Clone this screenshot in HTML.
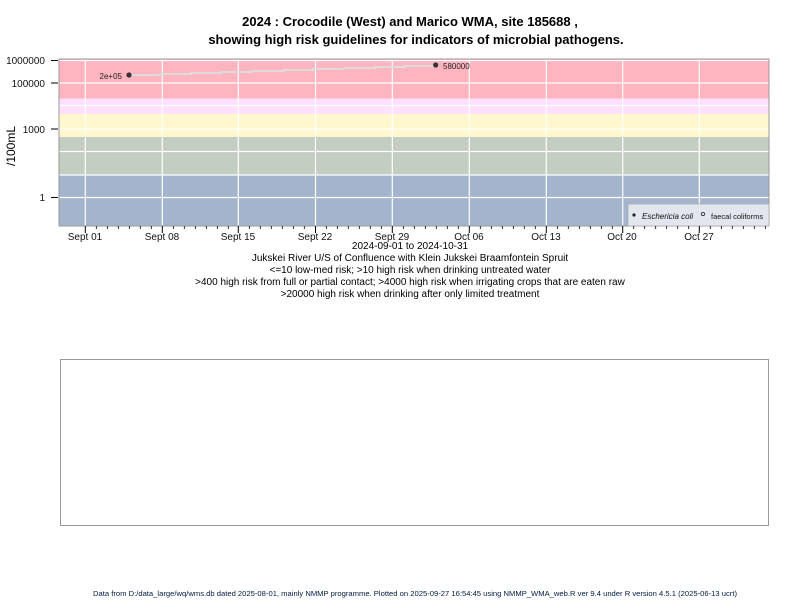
<!DOCTYPE html>
<html><head><meta charset="utf-8"><style>
html,body{margin:0;padding:0;background:#fff;}
svg{display:block;font-family:"Liberation Sans",Arial,sans-serif;}
</style></head><body>
<svg width="800" height="600" viewBox="0 0 800 600" xmlns="http://www.w3.org/2000/svg">
<text x="410" y="26" font-size="13" font-weight="bold" text-anchor="middle" fill="#000">2024 : Crocodile (West) and Marico WMA, site 185688 ,</text>
<text x="416" y="44" font-size="13" font-weight="bold" text-anchor="middle" fill="#000">showing high risk guidelines for indicators of microbial pathogens.</text>
<rect x="59" y="59" width="710" height="39.5" fill="#ffb5c0"/>
<rect x="59" y="98.5" width="710" height="15.5" fill="#ffe0ff"/>
<rect x="59" y="114" width="710" height="23" fill="#fff8ce"/>
<rect x="59" y="137" width="710" height="38" fill="#c3cdc2"/>
<rect x="59" y="175" width="710" height="51" fill="#a3b4cc"/>
<g stroke="#fff" stroke-width="1.2">
<line x1="59" x2="769" y1="60.5" y2="60.5"/>
<line x1="59" x2="769" y1="83" y2="83"/>
<line x1="59" x2="769" y1="105.5" y2="105.5"/>
<line x1="59" x2="769" y1="129" y2="129"/>
<line x1="59" x2="769" y1="151.5" y2="151.5"/>
<line x1="59" x2="769" y1="175" y2="175"/>
<line x1="59" x2="769" y1="197.5" y2="197.5"/>
<line x1="85.3" x2="85.3" y1="59" y2="226"/>
<line x1="162.3" x2="162.3" y1="59" y2="226"/>
<line x1="238.3" x2="238.3" y1="59" y2="226"/>
<line x1="315.5" x2="315.5" y1="59" y2="226"/>
<line x1="392.3" x2="392.3" y1="59" y2="226"/>
<line x1="469.3" x2="469.3" y1="59" y2="226"/>
<line x1="546.3" x2="546.3" y1="59" y2="226"/>
<line x1="622.7" x2="622.7" y1="59" y2="226"/>
<line x1="699.3" x2="699.3" y1="59" y2="226"/>
</g>
<rect x="59" y="59" width="710" height="167" fill="none" stroke="#999" stroke-width="1"/>
<g stroke="#000" stroke-width="1">
<line x1="51" x2="58" y1="60.5" y2="60.5"/>
<line x1="51" x2="58" y1="83" y2="83"/>
<line x1="51" x2="58" y1="129" y2="129"/>
<line x1="51" x2="58" y1="197.5" y2="197.5"/>
</g>
<g font-size="10" fill="#111" text-anchor="end">
<text x="45" y="64">1000000</text>
<text x="45" y="87">100000</text>
<text x="45" y="133">1000</text>
<text x="45" y="201">1</text>
</g>
<text transform="translate(15,146) rotate(-90)" font-size="12" text-anchor="middle" fill="#000">/100mL</text>
<g font-size="10" fill="#111" text-anchor="middle">
<text x="85" y="240">Sept 01</text>
<text x="162" y="240">Sept 08</text>
<text x="238" y="240">Sept 15</text>
<text x="315" y="240">Sept 22</text>
<text x="392" y="240">Sept 29</text>
<text x="469" y="240">Oct 06</text>
<text x="546" y="240">Oct 13</text>
<text x="622" y="240">Oct 20</text>
<text x="699" y="240">Oct 27</text>
</g>
<g font-size="10" fill="#000" text-anchor="middle">
<text x="410" y="249">2024-09-01 to 2024-10-31</text>
<text x="410" y="261">Jukskei River U/S of Confluence with Klein Jukskei Braamfontein Spruit</text>
<text x="410" y="273">&lt;=10 low-med risk; &gt;10 high risk when drinking untreated water</text>
<text x="410" y="285">&gt;400 high risk from full or partial contact; &gt;4000 high risk when irrigating crops that are eaten raw</text>
<text x="410" y="297">&gt;20000 high risk when drinking after only limited treatment</text>
</g>
<polyline fill="none" stroke="#dcdcdc" stroke-width="2" points="129,75 160,75 160,74 191,74 191,73 221,73 221,72 252,72 252,71 283,71 283,70 313,70 313,69 344,69 344,68 375,68 375,67 405,67 405,66 435.7,66 435.7,65"/>
<circle cx="129" cy="75" r="2.6" fill="#333"/>
<circle cx="435.7" cy="65" r="2.6" fill="#333"/>
<text x="122" y="79" font-size="8" fill="#222" text-anchor="end">2e+05</text>
<text x="443" y="69" font-size="8" fill="#222">580000</text>
<rect x="628" y="204" width="141" height="22" fill="#e2e6ee" stroke="#aaa" stroke-width="0.8"/>
<circle cx="634" cy="215" r="1.6" fill="#222"/>
<text x="642" y="219" font-size="8" font-style="italic" fill="#111">Eschericia coli</text>
<circle cx="703" cy="214" r="1.6" fill="none" stroke="#222" stroke-width="0.8"/>
<text x="711" y="219" font-size="7.5" fill="#111">faecal coliforms</text>
<rect x="60.5" y="359.5" width="708" height="166" fill="#fff" stroke="#999" stroke-width="1"/>
<text x="93" y="596" font-size="7.5" fill="#001a40" textLength="644" lengthAdjust="spacingAndGlyphs">Data from D:/data_large/wq/wms.db dated 2025-08-01, mainly NMMP programme. Plotted on 2025-09-27 16:54:45 using NMMP_WMA_web.R ver 9.4 under R version 4.5.1 (2025-06-13 ucrt)</text>
<g stroke="#000" stroke-width="1">
<line x1="85.3" x2="85.3" y1="226" y2="233"/><line x1="162.3" x2="162.3" y1="226" y2="233"/><line x1="238.3" x2="238.3" y1="226" y2="233"/><line x1="315.5" x2="315.5" y1="226" y2="233"/><line x1="392.3" x2="392.3" y1="226" y2="233"/><line x1="469.3" x2="469.3" y1="226" y2="233"/><line x1="546.3" x2="546.3" y1="226" y2="233"/><line x1="622.7" x2="622.7" y1="226" y2="233"/><line x1="699.3" x2="699.3" y1="226" y2="233"/>
</g>
<path stroke="#000" stroke-width="0.8" d="M96.3 226v3M107.3 226v3M118.3 226v3M129.3 226v3M140.3 226v3M151.3 226v3M173.3 226v3M184.3 226v3M195.3 226v3M206.3 226v3M217.3 226v3M228.3 226v3M249.3 226v3M260.3 226v3M271.3 226v3M282.3 226v3M293.3 226v3M304.3 226v3M326.3 226v3M337.3 226v3M348.3 226v3M359.3 226v3M370.3 226v3M381.3 226v3M403.3 226v3M414.3 226v3M425.3 226v3M436.3 226v3M447.3 226v3M458.3 226v3M480.3 226v3M491.3 226v3M502.3 226v3M513.3 226v3M524.3 226v3M535.3 226v3M557.3 226v3M568.3 226v3M579.3 226v3M590.3 226v3M601.3 226v3M612.3 226v3M633.7 226v3M644.7 226v3M655.7 226v3M666.7 226v3M677.7 226v3M688.7 226v3M710.3 226v3M721.3 226v3M732.3 226v3M743.3 226v3M754.3 226v3M765.3 226v3"/>
</svg>
</body></html>
